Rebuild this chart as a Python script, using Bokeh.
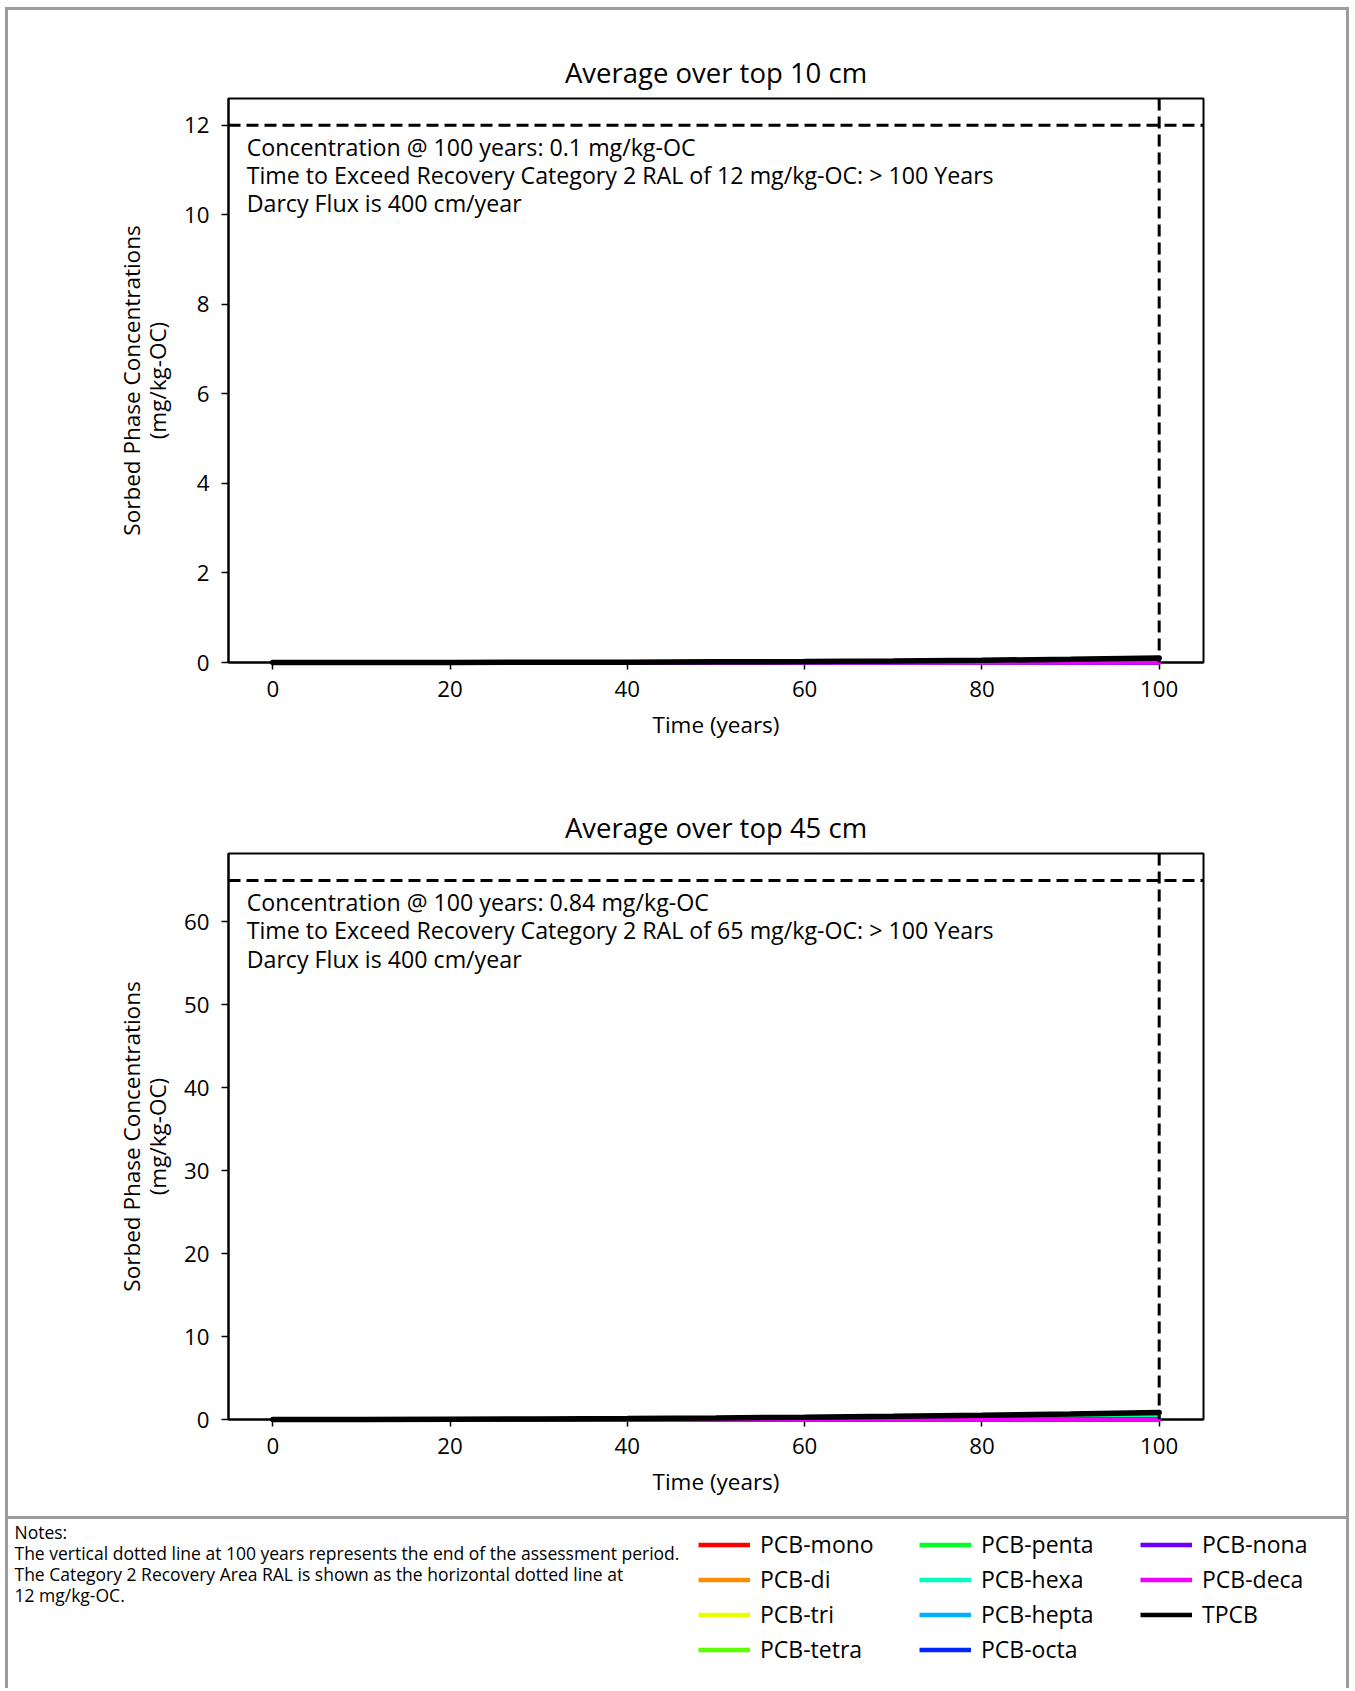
import numpy as np
from bokeh.plotting import figure
from bokeh.models import Range1d, Span, Label, Legend, LegendItem
from bokeh.layouts import column
from bokeh.embed import file_html
from bokeh.resources import INLINE

FONT = "Open Sans"

# ---------------- data ----------------
time_years = [0, 10, 20, 30, 40, 50, 60, 70, 80, 90, 100]
series_names = ["PCB-mono", "PCB-di", "PCB-tri", "PCB-tetra", "PCB-penta",
                "PCB-hexa", "PCB-hepta", "PCB-octa", "PCB-nona", "PCB-deca", "TPCB"]
series_colors = ["#ff0000", "#ff8c00", "#eaff00", "#5cff00", "#00ff26",
                 "#00ffc0", "#00b0ff", "#0026ff", "#6a00ff", "#f000ff", "#000000"]

# Average over top 10 cm (mg/kg-OC)
top10_mono  = [0, 0, 0, 0, 0, 0, 0, 0, 0, 0, 0]
top10_di    = [0, 0, 0, 0, 0, 0, 0, 0, 0.001, 0.001, 0.001]
top10_tri   = [0, 0, 0, 0, 0.001, 0.001, 0.002, 0.003, 0.005, 0.007, 0.010]
top10_tetra = [0, 0, 0.001, 0.001, 0.002, 0.004, 0.007, 0.010, 0.015, 0.021, 0.030]
top10_penta = [0, 0.001, 0.001, 0.002, 0.003, 0.005, 0.008, 0.012, 0.017, 0.025, 0.035]
top10_hexa  = [0, 0, 0, 0.001, 0.002, 0.003, 0.004, 0.006, 0.009, 0.013, 0.018]
top10_hepta = [0, 0, 0, 0, 0, 0.001, 0.001, 0.002, 0.003, 0.004, 0.005]
top10_octa  = [0, 0, 0, 0, 0, 0, 0, 0, 0, 0.001, 0.001]
top10_nona  = [0, 0, 0, 0, 0, 0, 0, 0, 0, 0, 0]
top10_deca  = [0, 0, 0, 0, 0, 0, 0, 0, 0, 0, 0]
top10_tpcb  = [0, 0.001, 0.002, 0.004, 0.008, 0.014, 0.022, 0.033, 0.050, 0.072, 0.100]

# Average over top 45 cm (mg/kg-OC)
top45_mono  = [0, 0, 0, 0, 0, 0, 0, 0, 0, 0, 0]
top45_di    = [0, 0, 0, 0, 0, 0.001, 0.002, 0.004, 0.006, 0.008, 0.010]
top45_tri   = [0, 0.001, 0.003, 0.006, 0.011, 0.017, 0.026, 0.036, 0.049, 0.063, 0.080]
top45_tetra = [0, 0.003, 0.009, 0.018, 0.033, 0.054, 0.080, 0.113, 0.152, 0.197, 0.250]
top45_penta = [0, 0.004, 0.010, 0.021, 0.038, 0.062, 0.093, 0.131, 0.176, 0.228, 0.290]
top45_hexa  = [0, 0.002, 0.005, 0.011, 0.020, 0.032, 0.048, 0.068, 0.091, 0.118, 0.150]
top45_hepta = [0, 0, 0.002, 0.004, 0.007, 0.011, 0.016, 0.023, 0.030, 0.039, 0.050]
top45_octa  = [0, 0, 0, 0, 0.001, 0.002, 0.003, 0.005, 0.006, 0.007, 0.010]
top45_nona  = [0, 0, 0, 0, 0, 0, 0, 0, 0, 0, 0]
top45_deca  = [0, 0, 0, 0, 0, 0, 0, 0, 0, 0, 0]
top45_tpcb  = [0, 0.010, 0.030, 0.060, 0.110, 0.180, 0.270, 0.380, 0.510, 0.660, 0.840]

ral_top10 = 12
ral_top45 = 65
assessment_end = 100
x_ticks = [0, 20, 40, 60, 80, 100]
y_ticks_top10 = [0, 2, 4, 6, 8, 10, 12]
y_ticks_top45 = [0, 10, 20, 30, 40, 50, 60]

notes_lines = [
    "Notes:",
    "The vertical dotted line at 100 years represents the end of the assessment period.",
    "The Category 2 Recovery Area RAL is shown as the horizontal dotted line at",
    "12 mg/kg-OC.",
]

top10_series = [top10_mono, top10_di, top10_tri, top10_tetra, top10_penta, top10_hexa,
                top10_hepta, top10_octa, top10_nona, top10_deca, top10_tpcb]
top45_series = [top45_mono, top45_di, top45_tri, top45_tetra, top45_penta, top45_hexa,
                top45_hepta, top45_octa, top45_nona, top45_deca, top45_tpcb]

W = 1338
BL, BR, FW = 220, 143, 975
GRAY = "#9d9d9d"


def make_chart(title, series, ral, yticks, info_lines, height, border_top, border_bottom):
    ymax = ral * 1.05
    p = figure(width=W, height=height, output_backend="svg", toolbar_location=None,
               x_range=Range1d(-5, 105), y_range=Range1d(0, ymax),
               min_border_left=BL, min_border_right=BR,
               min_border_top=border_top, min_border_bottom=border_bottom)
    p.frame_width = FW
    p.frame_height = height - border_top - border_bottom
    p.title.text = title
    p.title.align = "center"
    p.title.text_font = FONT
    p.title.text_font_size = "27.5px"
    p.title.text_font_style = "normal"
    p.title.text_color = "#000000"
    p.title.standoff = 15

    p.add_layout(Span(location=ral, dimension="width", line_color="black",
                      line_width=3, line_dash="12 6"))
    for s, c, n in zip(series, series_colors, series_names):
        r = p.line(time_years, s, line_color=c, line_cap="round",
                   line_width=5.5 if n == "TPCB" else 4)
        r.level = "overlay"
    vs = Span(location=assessment_end, dimension="height", line_color="black",
              line_width=3, line_dash="12 6")
    vs.level = "overlay"
    p.add_layout(vs)

    for frac, txt in zip([0.914, 0.864, 0.814], info_lines):
        p.add_layout(Label(x=-2.95, y=ymax * frac, text=txt, text_font=FONT,
                           text_font_size="23.2px", text_baseline="middle",
                           text_align="left", text_color="black"))

    p.xaxis.ticker = x_ticks
    p.yaxis.ticker = yticks
    p.xaxis.axis_label = "Time (years)"
    p.yaxis.axis_label = "Sorbed Phase Concentrations\n(mg/kg-OC)"
    for ax in (p.xaxis, p.yaxis):
        ax.axis_label_text_font = FONT
        ax.axis_label_text_font_size = "22.5px"
        ax.axis_label_text_font_style = "normal"
        ax.axis_label_text_color = "black"
        ax.axis_label_text_line_height = 0.83
        ax.major_label_text_font = FONT
        ax.major_label_text_font_size = "22.3px"
        ax.major_label_text_color = "black"
        ax.major_tick_out = 7
        ax.major_tick_in = 0
        ax.major_tick_line_width = 1.5
        ax.major_tick_line_color = "black"
        ax.minor_tick_line_color = None
        ax.axis_line_color = "black"
        ax.axis_line_width = 2
    p.xaxis.major_label_standoff = 11
    p.yaxis.major_label_standoff = 12
    p.xaxis.axis_label_standoff = 9
    p.yaxis.axis_label_standoff = 8
    p.grid.visible = False
    p.outline_line_color = "black"
    p.outline_line_width = 2
    p.outline_line_alpha = 1
    p.background_fill_color = "white"
    p.border_fill_color = "white"
    return p


p1 = make_chart("Average over top 10 cm", top10_series, ral_top10, y_ticks_top10,
                ["Concentration @ 100 years: 0.1 mg/kg-OC",
                 "Time to Exceed Recovery Category 2 RAL of 12 mg/kg-OC: > 100 Years",
                 "Darcy Flux is 400 cm/year"],
                height=760, border_top=88, border_bottom=108)
p2 = make_chart("Average over top 45 cm", top45_series, ral_top45, y_ticks_top45,
                ["Concentration @ 100 years: 0.84 mg/kg-OC",
                 "Time to Exceed Recovery Category 2 RAL of 65 mg/kg-OC: > 100 Years",
                 "Darcy Flux is 400 cm/year"],
                height=746, border_top=83, border_bottom=97)

# ---------------- notes + legend panel ----------------
# frame covers the whole canvas, so x/y data units equal canvas pixels
H3 = 169
p3 = figure(width=W, height=H3, output_backend="svg", toolbar_location=None,
            x_range=Range1d(0, W), y_range=Range1d(H3, 0),
            x_axis_type=None, y_axis_type=None,
            min_border_left=0, min_border_right=0, min_border_top=0, min_border_bottom=0)
p3.frame_align = False
p3.frame_width = W
p3.frame_height = H3
p3.grid.visible = False
p3.outline_line_color = None
p3.border_fill_color = "white"
p3.background_fill_color = "white"
p3.styles = {"border-top": "3px solid " + GRAY}

for txt, yy in zip(notes_lines, [12, 32.7, 53.4, 74]):
    p3.add_layout(Label(x=6, y=yy, text=txt, text_font=FONT,
                        text_font_size="17.5px", text_baseline="middle",
                        text_align="left", text_color="black"))

items = []
for n, c in zip(series_names, series_colors):
    r = p3.line(np.array([np.nan]), np.array([np.nan]), line_color=c, line_width=4.5)
    items.append(LegendItem(label=n, renderers=[r]))

leg = Legend(items=items, nrows=4, orientation="vertical", location=(690, 26),
             glyph_width=52, glyph_height=31, label_height=31, label_width=156,
             label_standoff=10, spacing=3, padding=0, margin=0,
             border_line_color=None, background_fill_alpha=0,
             label_text_font=FONT, label_text_font_size="23px", label_text_color="black")
p3.add_layout(leg, "center")

layout = column(p1, p2, p3, spacing=0,
                styles={"border-left": "3px solid " + GRAY,
                        "border-right": "3px solid " + GRAY,
                        "border-top": "3px solid " + GRAY,
                        "margin-left": "5px",
                        "margin-top": "7px"})

open("out.html", "w").write(file_html(layout, INLINE))
